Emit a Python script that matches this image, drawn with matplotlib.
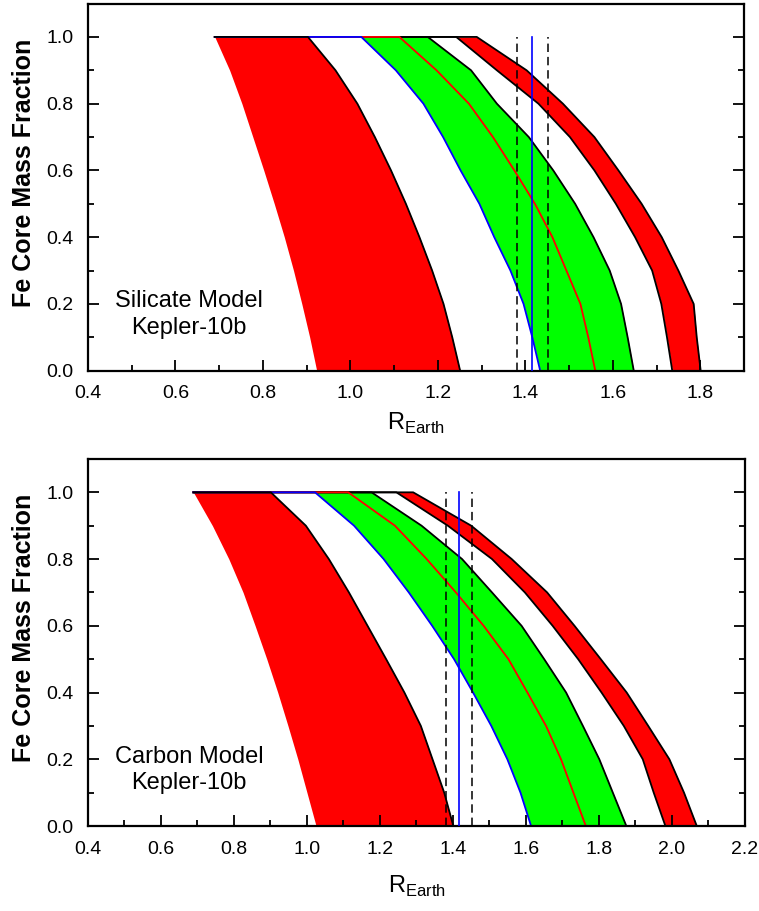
import matplotlib
matplotlib.use("Agg")
import matplotlib.pyplot as plt
from matplotlib.ticker import MultipleLocator, FormatStrFormatter

plt.rcParams['font.family'] = ['Liberation Sans', 'DejaVu Sans']
plt.rcParams['mathtext.fontset'] = 'custom'
plt.rcParams['mathtext.rm'] = 'Liberation Sans'

# Fe core mass fraction grid (shared by all curves)
fe = [1.0, 0.9, 0.8, 0.7, 0.6, 0.5, 0.4, 0.3, 0.2, 0.1, 0.0]

# silicate model, radius [R_Earth] of each boundary curve
si_low_left = [0.690, 0.724, 0.752, 0.777, 0.802, 0.826, 0.849, 0.870, 0.889, 0.907, 0.923]
si_low_right = [0.903, 0.966, 1.016, 1.056, 1.093, 1.127, 1.158, 1.187, 1.213, 1.233, 1.251]
si_blue = [1.025, 1.104, 1.167, 1.212, 1.252, 1.295, 1.329, 1.366, 1.396, 1.416, 1.434]
si_mid = [1.112, 1.197, 1.271, 1.326, 1.375, 1.422, 1.462, 1.494, 1.526, 1.544, 1.560]
si_green_right = [1.177, 1.276, 1.335, 1.408, 1.464, 1.514, 1.556, 1.593, 1.619, 1.634, 1.648]
si_high_left = [1.242, 1.335, 1.430, 1.502, 1.558, 1.607, 1.651, 1.690, 1.711, 1.724, 1.736]
si_high_right = [1.289, 1.403, 1.486, 1.558, 1.613, 1.666, 1.712, 1.750, 1.785, 1.792, 1.801]

# carbon model
c_low_left = [0.689, 0.741, 0.786, 0.825, 0.858, 0.890, 0.920, 0.948, 0.975, 1.000, 1.025]
c_low_right = [0.901, 0.997, 1.060, 1.115, 1.166, 1.217, 1.267, 1.312, 1.344, 1.376, 1.401]
c_blue = [1.022, 1.129, 1.210, 1.279, 1.343, 1.403, 1.455, 1.505, 1.549, 1.585, 1.614]
c_mid = [1.113, 1.241, 1.328, 1.408, 1.484, 1.552, 1.604, 1.655, 1.696, 1.730, 1.764]
c_green_right = [1.177, 1.314, 1.425, 1.507, 1.588, 1.650, 1.710, 1.756, 1.801, 1.838, 1.875]
c_high_left = [1.245, 1.386, 1.507, 1.597, 1.673, 1.743, 1.807, 1.868, 1.920, 1.950, 1.982]
c_high_right = [1.291, 1.450, 1.561, 1.658, 1.733, 1.805, 1.876, 1.935, 1.993, 2.033, 2.068]

# Kepler-10b radius and its uncertainty
r_k10 = 1.416
r_err = 0.036

RED = '#FF0000'
GREEN = '#00FF00'
BLUE = '#0000FF'


def rysuj_panel(ax, low_l, low_r, blue, mid, green_r, high_l, high_r, xmax, opis):
    #wypelnienia pasm
    ax.fill_betweenx(fe, low_l, low_r, color=RED, lw=0, zorder=1)
    ax.fill_betweenx(fe, blue, green_r, color=GREEN, lw=0, zorder=1)
    ax.fill_betweenx(fe, high_l, high_r, color=RED, lw=0, zorder=1)

    #krzywe brzegowe, kazda zaczyna sie od wspolnego punktu na y=1
    x0 = low_l[0]
    krzywe = [(high_r, 'k'), (high_l, 'k'), (green_r, 'k'),
              (mid, RED), (blue, BLUE), (low_r, 'k')]
    for x, kolor in krzywe:
        ax.plot([x0] + x, [fe[0]] + fe, color=kolor, lw=1.3, zorder=2,
                solid_joinstyle='round')

    #promien planety i niepewnosc
    ax.plot([r_k10, r_k10], [0, 1], color=BLUE, lw=1.2, zorder=3)
    for r in (r_k10 - r_err, r_k10 + r_err):
        ax.plot([r, r], [0, 1], color='k', lw=1.1, dashes=(5.5, 3.2), zorder=3)

    ax.text(0.154, 0.153, opis, transform=ax.transAxes, ha='center', va='center',
            fontsize=17, linespacing=1.25)

    ax.set_xlim(0.4, xmax)
    ax.set_ylim(0, 1.1)
    ax.xaxis.set_major_locator(MultipleLocator(0.2))
    ax.xaxis.set_minor_locator(MultipleLocator(0.1))
    ax.yaxis.set_major_locator(MultipleLocator(0.2))
    ax.yaxis.set_minor_locator(MultipleLocator(0.1))
    ax.xaxis.set_major_formatter(FormatStrFormatter('%.1f'))
    ax.yaxis.set_major_formatter(FormatStrFormatter('%.1f'))
    ax.tick_params(which='both', direction='in', right=True, top=False,
                   width=1.3, labelsize=14, pad=10.5)
    ax.tick_params(which='major', length=8)
    ax.tick_params(which='minor', length=4.5)
    for s in ax.spines.values():
        s.set_linewidth(1.6)
    ax.set_ylabel('Fe Core Mass Fraction', fontsize=18, fontweight='bold',
                  labelpad=7, y=0.54)


fig = plt.figure(figsize=(7.59, 9.11), dpi=100)
ax1 = fig.add_axes([0.1159, 0.5931, 0.8643, 0.4030])
ax2 = fig.add_axes([0.1159, 0.0933, 0.8656, 0.4029])

rysuj_panel(ax1, si_low_left, si_low_right, si_blue, si_mid, si_green_right,
            si_high_left, si_high_right, 1.9, 'Silicate Model\nKepler-10b')
rysuj_panel(ax2, c_low_left, c_low_right, c_blue, c_mid, c_green_right,
            c_high_left, c_high_right, 2.2, 'Carbon Model\nKepler-10b')

ax1.set_xlabel(r'R$_{\mathrm{Earth}}$', fontsize=17, labelpad=6)
ax2.set_xlabel(r'R$_{\mathrm{Earth}}$', fontsize=17, labelpad=12)

fig.savefig('out.png', dpi=100)
